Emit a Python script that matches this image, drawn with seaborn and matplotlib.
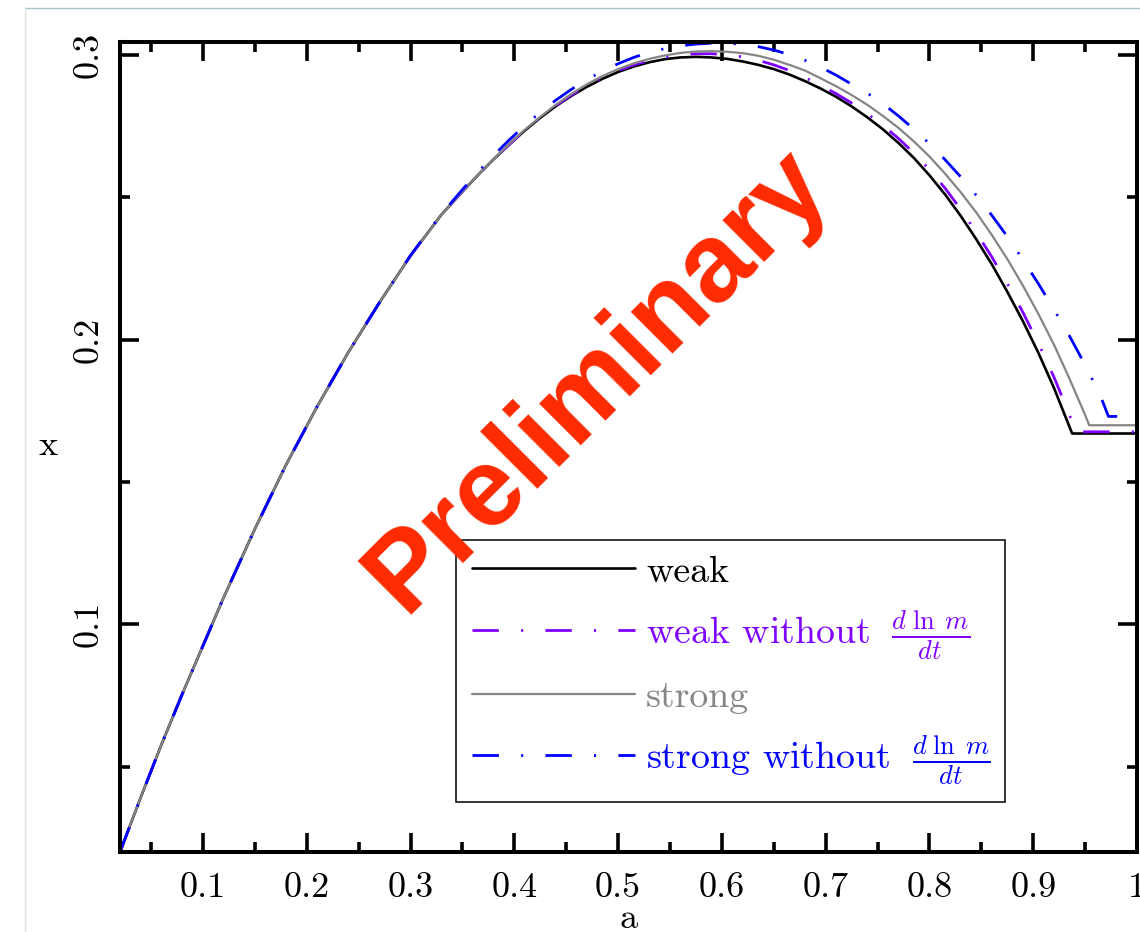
import matplotlib
matplotlib.use("Agg")
import matplotlib.pyplot as plt
from matplotlib.lines import Line2D
from matplotlib.ticker import FixedLocator, MultipleLocator
import pandas as pd
import seaborn as sns

# ---- data -------------------------------------------------------------
a_rise = [0.02, 0.04, 0.06, 0.08, 0.10, 0.12, 0.15, 0.18, 0.21, 0.24, 0.27, 0.30,
          0.33, 0.35, 0.365, 0.38, 0.395, 0.41, 0.425, 0.44, 0.455, 0.47, 0.485,
          0.50, 0.515, 0.53, 0.545, 0.56, 0.575]
a_fall = [0.59, 0.605, 0.62, 0.635, 0.65, 0.665, 0.68, 0.695, 0.71, 0.725, 0.74,
          0.755, 0.77, 0.785, 0.80, 0.815, 0.83, 0.845, 0.86, 0.875, 0.89, 0.905,
          0.92, 0.935]

# weak
a_weak = a_rise + a_fall + [0.9375, 1.0]
x_weak = [0.0200, 0.0392, 0.0578, 0.0755, 0.0925, 0.1095, 0.1335, 0.1560, 0.1765,
          0.1955, 0.2130, 0.2295, 0.2440, 0.2520, 0.2578, 0.2633, 0.2685, 0.2734,
          0.2779, 0.2820, 0.2856, 0.2888, 0.2916, 0.2940, 0.2959, 0.2974, 0.2985,
          0.2991, 0.2993,
          0.2991, 0.2986, 0.2977, 0.2965, 0.2950, 0.2931, 0.2908, 0.2882, 0.2853,
          0.2819, 0.2781, 0.2739, 0.2691, 0.2638, 0.2577, 0.2510, 0.2435, 0.2353,
          0.2265, 0.2168, 0.2065, 0.1953, 0.1830, 0.1693,
          0.1670, 0.1670]

# weak without d ln m / dt
a_weak_nodm = a_rise + a_fall + [0.941, 1.0]
x_weak_nodm = [0.0200, 0.0392, 0.0578, 0.0755, 0.0925, 0.1095, 0.1335, 0.1560, 0.1765,
               0.1955, 0.2130, 0.2295, 0.2440, 0.2520, 0.2578, 0.2633, 0.2685, 0.2735,
               0.2780, 0.2822, 0.2859, 0.2892, 0.2921, 0.2945, 0.2965, 0.2980, 0.2992,
               0.3000, 0.3004,
               0.3004, 0.3000, 0.2993, 0.2981, 0.2965, 0.2945, 0.2921, 0.2893, 0.2864,
               0.2831, 0.2794, 0.2753, 0.2707, 0.2655, 0.2597, 0.2532, 0.2458, 0.2377,
               0.2291, 0.2197, 0.2096, 0.1987, 0.1868, 0.1735,
               0.1676, 0.1676]

# strong
a_strong = a_rise + a_fall + [0.95, 0.954, 1.0]
x_strong = [0.0200, 0.0392, 0.0578, 0.0755, 0.0925, 0.1095, 0.1335, 0.1560, 0.1765,
            0.1955, 0.2130, 0.2295, 0.2440, 0.2520, 0.2578, 0.2633, 0.2687, 0.2737,
            0.2782, 0.2825, 0.2863, 0.2897, 0.2926, 0.2950, 0.2970, 0.2986, 0.2998,
            0.3007, 0.3012,
            0.3013, 0.3011, 0.3006, 0.2997, 0.2983, 0.2965, 0.2945, 0.2918, 0.2890,
            0.2859, 0.2825, 0.2786, 0.2744, 0.2696, 0.2643, 0.2583, 0.2518, 0.2447,
            0.2368, 0.2283, 0.2190, 0.2090, 0.1982, 0.1862,
            0.1735, 0.1699, 0.1699]

# strong without d ln m / dt
a_strong_nodm = a_rise + a_fall + [0.95, 0.965, 0.9725, 1.0]
x_strong_nodm = [0.0200, 0.0392, 0.0578, 0.0755, 0.0925, 0.1095, 0.1335, 0.1560, 0.1765,
                 0.1955, 0.2130, 0.2296, 0.2442, 0.2527, 0.2588, 0.2647, 0.2701, 0.2752,
                 0.2798, 0.2841, 0.2879, 0.2913, 0.2943, 0.2969, 0.2991, 0.3009, 0.3022,
                 0.3032, 0.3038,
                 0.3041, 0.3041, 0.3037, 0.3029, 0.3017, 0.3001, 0.2981, 0.2957, 0.2929,
                 0.2897, 0.2866, 0.2829, 0.2786, 0.2739, 0.2688, 0.2632, 0.2572, 0.2507,
                 0.2437, 0.2362, 0.2281, 0.2196, 0.2106, 0.2012,
                 0.1911, 0.1800, 0.1730, 0.1730]

series_labels = ["weak",
                 r"weak without $\;\frac{d\;\ln\;m}{dt}$",
                 "strong",
                 r"strong without $\;\frac{d\;\ln\;m}{dt}$"]

x_ticks = [0.1, 0.2, 0.3, 0.4, 0.5, 0.6, 0.7, 0.8, 0.9, 1.0]
x_tick_labels = ["0.1", "0.2", "0.3", "0.4", "0.5", "0.6", "0.7", "0.8", "0.9", "1"]
y_ticks = [0.1, 0.2, 0.3]
y_tick_labels = ["0.1", "0.2", "0.3"]

# ---- style ------------------------------------------------------------
sns.set_theme(style="ticks")
plt.rcParams.update({
    "font.family": "cmr10",
    "mathtext.fontset": "cm",
    "axes.formatter.use_mathtext": True,
    "axes.unicode_minus": False,
    "lines.scale_dashes": False,
    "axes.edgecolor": "black",
    "axes.linewidth": 2.9,
    "xtick.color": "black",
    "ytick.color": "black",
    "text.color": "black",
    "axes.labelcolor": "black",
})

W, H = 1140, 932
fig = plt.figure(figsize=(W / 100, H / 100), dpi=100)
ax = fig.add_axes([120 / W, 1 - 852 / H, 1017 / W, 810.5 / H])
ax.set_facecolor("white")

dashdot = (0, (19, 16, 1.5, 16))
curves = [
    (a_weak, x_weak, series_labels[0], "#000000", 1.9, "-"),
    (a_weak_nodm, x_weak_nodm, series_labels[1], "#8000ff", 2.0, dashdot),
    (a_strong, x_strong, series_labels[2], "#858585", 1.6, "-"),
    (a_strong_nodm, x_strong_nodm, series_labels[3], "#0000ff", 2.0, dashdot),
]
for a_vals, x_vals, lab, col, lw, ls in curves:
    df = pd.DataFrame({"a": a_vals, "x": x_vals})
    sns.lineplot(data=df, x="a", y="x", ax=ax, color=col, linewidth=lw,
                 linestyle=ls, label=lab, estimator=None, errorbar=None,
                 sort=False, dash_capstyle="butt", solid_joinstyle="round")

ax.set_xlim(0.02, 1.0)
ax.set_ylim(0.02, 0.3047)

ax.xaxis.set_major_locator(FixedLocator(x_ticks))
ax.set_xticklabels(x_tick_labels)
ax.xaxis.set_minor_locator(MultipleLocator(0.05))
ax.yaxis.set_major_locator(FixedLocator(y_ticks))
ax.set_yticklabels(y_tick_labels)
ax.yaxis.set_minor_locator(MultipleLocator(0.05))

ax.tick_params(which="both", direction="in", top=True, right=True,
               width=2.6, colors="black")
ax.tick_params(which="major", length=13.5, labelsize=26)
ax.tick_params(which="minor", length=7)
ax.tick_params(axis="x", which="major", pad=15)
ax.tick_params(axis="y", which="major", pad=10.8, labelrotation=90)
for t in ax.get_yticklabels():
    t.set_verticalalignment("center")

for s in ax.spines.values():
    s.set_visible(True)
    s.set_color("black")
    s.set_linewidth(2.9)

ax.set_xlabel("a", fontsize=26)
ax.set_ylabel("x", fontsize=26, rotation=0)
ax.xaxis.set_label_coords(509 / 1017, (852 - 928.5) / 810.5)
ax.xaxis.label.set_verticalalignment("baseline")
ax.yaxis.set_label_coords((48 - 120) / 1017, (852 - 446) / 810.5)
ax.yaxis.label.set_verticalalignment("center")
ax.yaxis.label.set_horizontalalignment("center")

leg = ax.legend(loc="upper left", bbox_to_anchor=((456.4 - 120) / 1017, (852 - 540) / 810.5),
                borderaxespad=0, frameon=True, fancybox=False, shadow=False,
                framealpha=1, edgecolor="black", facecolor="white",
                fontsize=27.3, handlelength=4.32, handletextpad=0.28,
                borderpad=0.4, labelspacing=0.5, labelcolor="linecolor")
leg.get_frame().set_linewidth(1.1)

# draft stamp across the plot
fig.text(598 / W, 1 - 380 / H, "Preliminary", color="#ff2a00",
         fontsize=80, fontweight="bold", family="Liberation Sans",
         rotation=45, rotation_mode="anchor", ha="center", va="center", zorder=10)

# thin frame around the canvas
fig.add_artist(Line2D([25 / W, 1.0], [1 - 8.3 / H, 1 - 8.3 / H],
                      transform=fig.transFigure, color="#a9c1c8", linewidth=1.0))
fig.add_artist(Line2D([25 / W, 25 / W], [0, 1 - 8.3 / H],
                      transform=fig.transFigure, color="#dfe3db", linewidth=1.0))

fig.savefig("out.png", dpi=100, facecolor="white")
